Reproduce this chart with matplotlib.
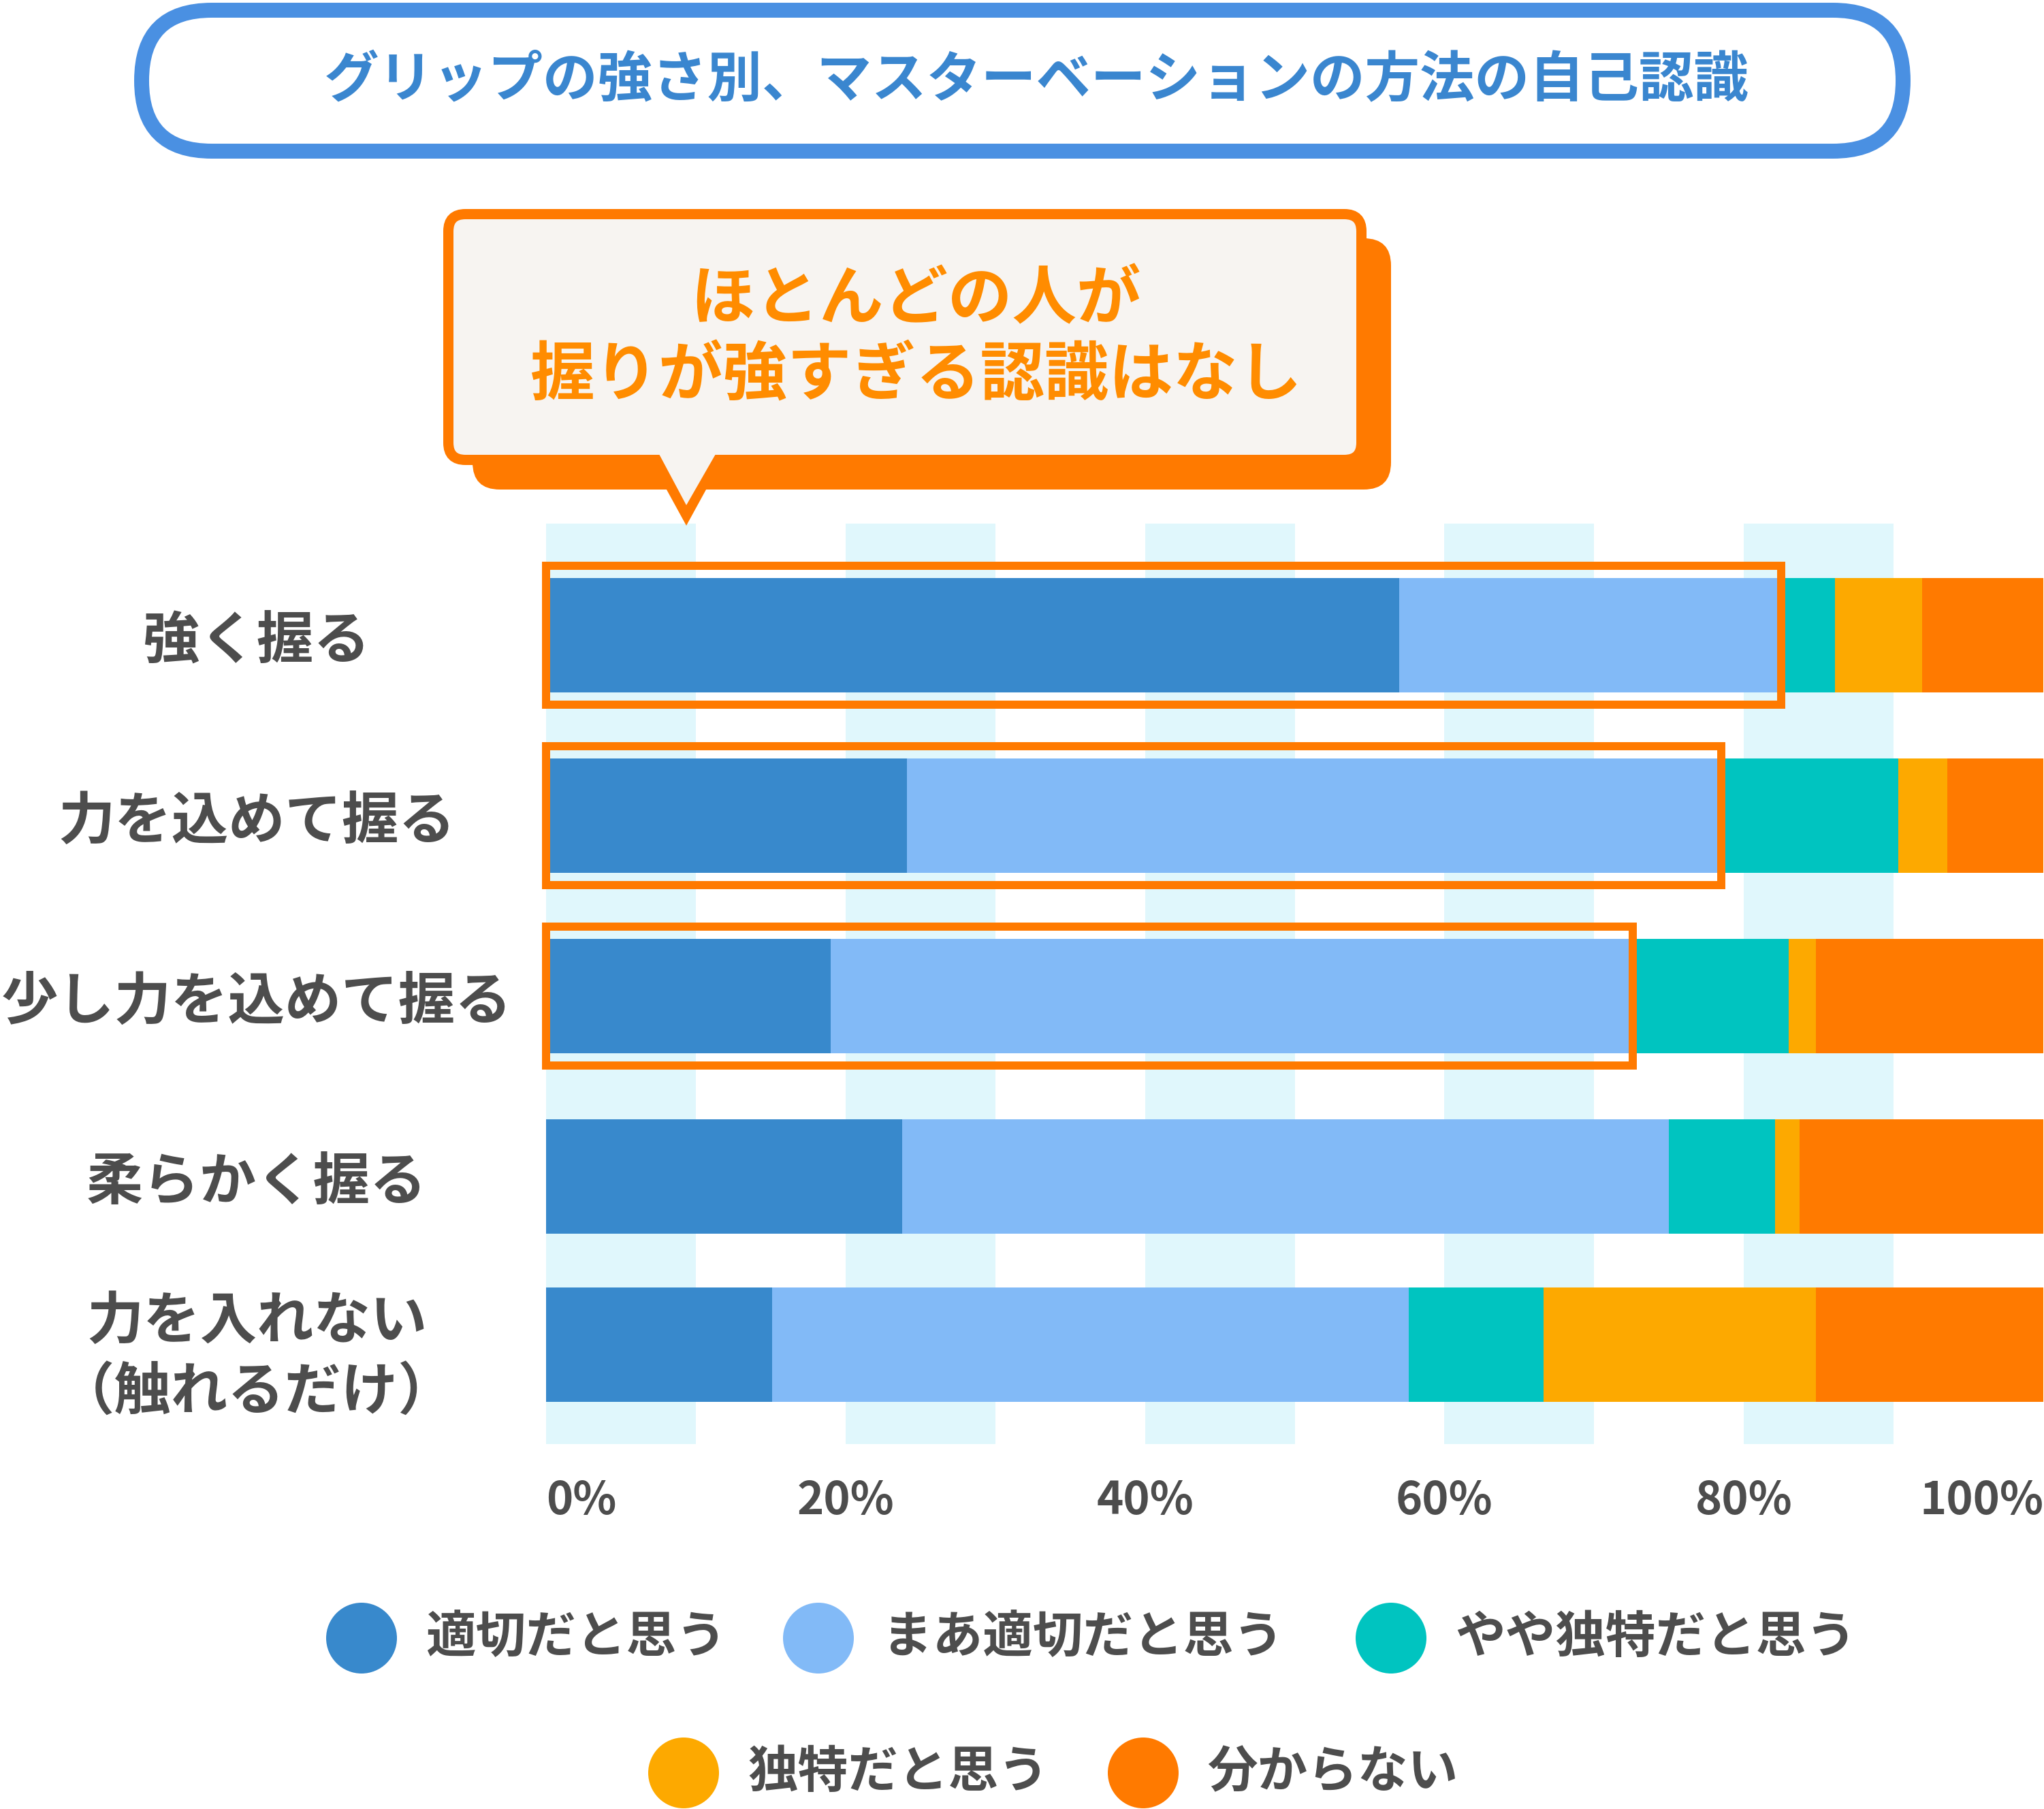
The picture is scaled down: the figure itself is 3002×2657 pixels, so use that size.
import matplotlib
matplotlib.use("Agg")
import matplotlib.pyplot as plt
import numpy as np
from matplotlib.patches import FancyBboxPatch, Polygon, Circle, Rectangle

plt.rcParams['font.family'] = ['Noto Sans CJK JP', 'DejaVu Sans']

# ---- data ----
title = 'グリップの強さ別、マスターベーションの方法の自己認識'
callout = 'ほとんどの人が\n握りが強すぎる認識はなし'
categories = ['強く握る', '力を込めて握る', '少し力を込めて握る', '柔らかく握る',
              '力を入れない\n（触れるだけ）']
series_names = ['適切だと思う', 'まあ適切だと思う', 'やや独特だと思う', '独特だと思う', '分からない']
appropriate = [57.0, 24.1, 19.0, 23.8, 15.1]
somewhat_appropriate = [25.5, 54.4, 53.6, 51.2, 42.5]
somewhat_unique = [3.6, 11.8, 10.4, 7.1, 9.0]
unique = [5.8, 3.3, 1.8, 1.6, 18.2]
dont_know = [8.1, 6.4, 15.2, 16.3, 15.2]
highlight_rows = [0, 1, 2]
xticks = [0, 20, 40, 60, 80, 100]
xtick_labels = ['0%', '20%', '40%', '60%', '80%', '100%']

series = [appropriate, somewhat_appropriate, somewhat_unique, unique, dont_know]
colors = ['#3889cc', '#82baf7', '#00c4c0', '#fda900', '#ff7a00']
GRAY = '#4d4d4d'
ORANGE = '#ff7a00'
STRIPE = '#e0f7fc'

W, H = 3002, 2657
fig = plt.figure(figsize=(W / 100, H / 100), dpi=100)

# ---- bar chart ----
ax = fig.add_axes([802 / W, 1 - 2121 / H, 2199 / W, 1352 / H])
ax.set_facecolor('none')
row_y = np.array([0, 1, 2, 3, 3.932])
bar_h = 0.634

for x0 in range(0, 100, 20):
    ax.axvspan(x0, x0 + 10, color=STRIPE, lw=0, zorder=0)

left = np.zeros(len(categories))
for vals, c in zip(series, colors):
    ax.barh(row_y, vals, left=left, height=bar_h, color=c, linewidth=0, zorder=2)
    left += np.array(vals)

# orange frames around the "appropriate" part
cum2 = np.array(appropriate) + np.array(somewhat_appropriate)
pad = 0.068
for i in highlight_rows:
    ax.add_patch(Rectangle((0, row_y[i] - bar_h / 2 - pad), cum2[i], bar_h + 2 * pad,
                           fill=False, edgecolor=ORANGE, linewidth=8.6,
                           joinstyle='miter', clip_on=False, zorder=3))

ax.set_xlim(0, 100)
ax.set_ylim(4.483, -0.619)
for s in ax.spines.values():
    s.set_visible(False)

ax.set_xticks(xticks, xtick_labels)
ax.tick_params(axis='x', length=0, pad=36, labelsize=48, labelcolor=GRAY)
tl = ax.get_xticklabels()
for t in tl:
    t.set_fontweight('bold')
tl[0].set_ha('left')
tl[-1].set_ha('right')

ax.set_yticks(row_y, categories)
ax.tick_params(axis='y', length=0, pad=306, labelsize=60, labelcolor=GRAY)
for t in ax.get_yticklabels():
    t.set_ha('center')
    t.set_fontweight('bold')
    t.set_linespacing(1.28)

# ---- overlay for title, callout and legend ----
ov = fig.add_axes([0, 0, 1, 1], zorder=5)
ov.set_xlim(0, W)
ov.set_ylim(H, 0)
ov.axis('off')
ov.patch.set_visible(False)

ov.add_patch(FancyBboxPatch((208, 15), 2587, 207, boxstyle='round,pad=0,rounding_size=103',
                            facecolor='white', edgecolor='#4a90e2', linewidth=15.8))
ov.text(1522, 119, title, ha='center', va='center', fontsize=58,
        fontweight='bold', color='#3a86cf')

# callout bubble with shadow
ov.add_patch(FancyBboxPatch((694, 350), 1349, 369, boxstyle='round,pad=0,rounding_size=40',
                            facecolor=ORANGE, edgecolor='none'))
ov.add_patch(Polygon([(951, 668), (1065, 668), (1008, 772)], closed=True,
                     facecolor=ORANGE, edgecolor='none'))
ov.add_patch(FancyBboxPatch((658.5, 314.5), 1341, 361, boxstyle='round,pad=0,rounding_size=25',
                            facecolor='#f7f4f1', edgecolor=ORANGE, linewidth=10.8))
ov.add_patch(Polygon([(968, 667), (1051, 667), (1008, 742)], closed=True,
                     facecolor='#f7f4f1', edgecolor='none', zorder=3))
ov.text(1345, 497, callout, ha='center', va='center', fontsize=68, fontweight='bold',
        color='#ff8c00', linespacing=1.22, zorder=4)

# legend
legend_pos = [(531, 2406), (1202, 2406), (2043, 2406), (1004, 2604), (1679, 2604)]
for (cx, cy), name, c in zip(legend_pos, series_names, colors):
    ov.add_patch(Circle((cx, cy), 52, facecolor=c, edgecolor='none'))
    ov.text(cx + 94, cy, name, ha='left', va='center', fontsize=53,
            fontweight='bold', color=GRAY)

fig.savefig('out.png', dpi=100)
